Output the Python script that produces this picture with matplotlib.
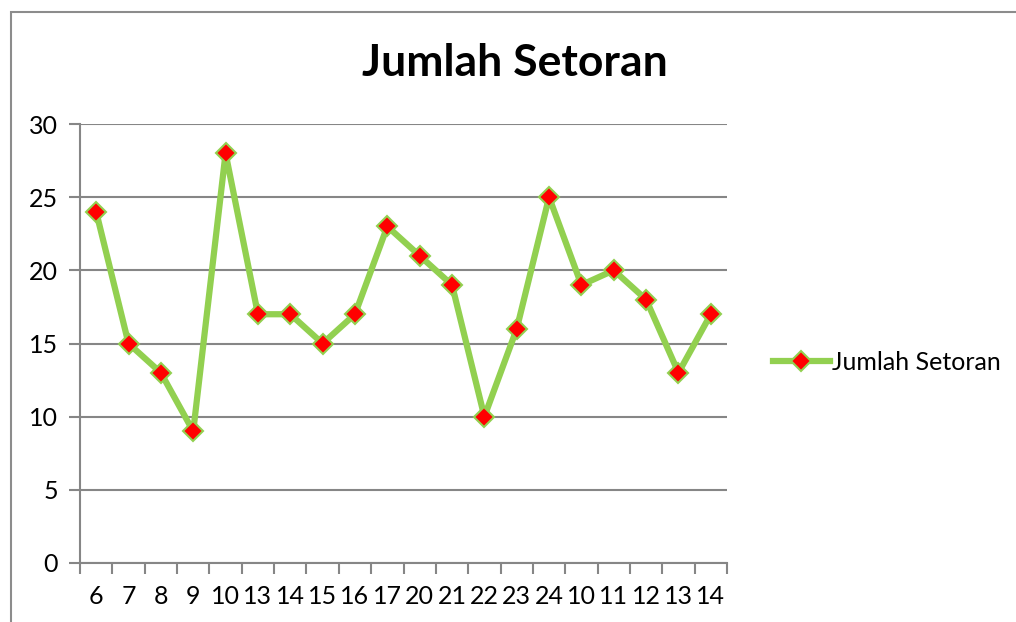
import matplotlib.pyplot as plt
from matplotlib.patches import Rectangle
from matplotlib.lines import Line2D

plt.rcParams['font.family'] = ['Lato', 'DejaVu Sans']

labels = ["6", "7", "8", "9", "10", "13", "14", "15", "16", "17",
          "20", "21", "22", "23", "24", "10", "11", "12", "13", "14"]
values = [24, 15, 13, 9, 28, 17, 17, 15, 17, 23,
          21, 19, 10, 16, 25, 19, 20, 18, 13, 17]
series_name = "Jumlah Setoran"

green = "#92D050"
grid_gray = "#868686"

fig = plt.figure(figsize=(10.16, 6.22), dpi=100)
fig.patches.append(Rectangle((11 / 1016, -0.1), 1.2, 1 - 12 / 622 + 0.1,
                             transform=fig.transFigure, fill=False,
                             edgecolor="#8c8c8c", linewidth=1.5))

ax = fig.add_axes([80 / 1016, 1 - 563 / 622, 647 / 1016, 439 / 622])
x = list(range(len(values)))
ax.plot(x, values, color=green, linewidth=4.5, marker="D", markersize=10,
        markerfacecolor="red", markeredgecolor=green, markeredgewidth=1.5,
        solid_joinstyle="round")

ax.set_xlim(-0.5, len(values) - 0.5)
ax.set_ylim(0, 30)
ax.set_yticks(range(0, 31, 5))
ax.yaxis.grid(True, color=grid_gray, linewidth=1.5)
ax.set_axisbelow(True)
ax.set_xticks(x)
ax.set_xticklabels(labels)
ax.set_xticks([i - 0.5 for i in range(len(values) + 1)], minor=True)
ax.tick_params(axis="x", which="major", length=0, pad=16, labelsize=18)
ax.tick_params(axis="x", which="minor", length=8, width=1.5, color=grid_gray)
ax.tick_params(axis="y", length=8, width=1.5, color=grid_gray, labelsize=18, pad=8)

for side in ["top", "right"]:
    ax.spines[side].set_visible(False)
for side in ["left", "bottom"]:
    ax.spines[side].set_color(grid_gray)
    ax.spines[side].set_linewidth(1.5)

fig.text(515 / 1016, 1 - 63 / 622, series_name, ha="center", va="center",
         fontsize=32, fontweight="bold")

handle = Line2D([], [], color=green, linewidth=4.5, marker="D", markersize=10,
                markerfacecolor="red", markeredgecolor=green, markeredgewidth=1.5)
fig.legend([handle], [series_name], loc="center left",
           bbox_to_anchor=(760 / 1016, 1 - 362 / 622), frameon=False,
           fontsize=18, handlelength=2.3, handletextpad=0.1, borderpad=0)

fig.savefig("out.png", dpi=100)
